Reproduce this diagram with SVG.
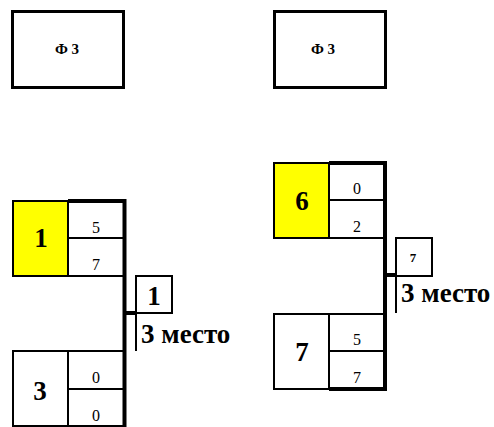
<svg xmlns="http://www.w3.org/2000/svg" width="494" height="427" viewBox="0 0 494 427">
<style>
.box{fill:#fff;stroke:#000;stroke-width:2}
.yel{fill:#ffff00;stroke:#000;stroke-width:2}
.frame{fill:none;stroke:#000;stroke-width:3}
.thick{fill:none;stroke:#000;stroke-width:4}
.thin{fill:none;stroke:#000;stroke-width:2}
text{font-family:"Liberation Serif","Times New Roman","DejaVu Serif",serif;fill:#000}
.big{font-weight:bold;font-size:27px;text-anchor:middle}
.sm{font-size:16px;text-anchor:middle}
.hd{font-weight:bold;font-size:15px;text-anchor:middle}
.res{font-weight:bold;font-size:13px;text-anchor:middle}
.pl{font-weight:bold;font-size:27px}
</style>
<rect width="494" height="427" fill="#fff"/>
<g id="top-left"><rect class="frame" x="12.5" y="11.5" width="111" height="76"/><text class="hd" x="67" y="54">Ф 3</text></g>
<g id="top-right"><rect class="frame" x="274.5" y="11.5" width="111" height="76"/><text class="hd" x="323" y="54">Ф 3</text></g>
<g id="team-1"><rect class="yel" x="13" y="201" width="55" height="75"/><text class="big" x="41" y="247">1</text></g>
<g id="score-1"><rect class="box" x="68" y="201" width="56" height="37"/><rect class="box" x="68" y="238" width="56" height="38"/><text class="sm" x="96" y="233">5</text><text class="sm" x="96" y="270">7</text></g>
<g id="team-3"><rect class="box" x="13" y="351" width="55" height="75"/><text class="big" x="40" y="400">3</text></g>
<g id="score-3"><rect class="box" x="68" y="351" width="56" height="38"/><rect class="box" x="68" y="389" width="56" height="37"/><text class="sm" x="96" y="383">0</text><text class="sm" x="96" y="421">0</text></g>
<g id="result-left"><rect class="box" x="136" y="276" width="36" height="37"/><text class="big" x="154" y="305">1</text><text class="pl" x="141" y="343">3 место</text></g>
<g id="team-6"><rect class="yel" x="274" y="163" width="55" height="75"/><text class="big" x="302" y="210">6</text></g>
<g id="score-6"><rect class="box" x="329" y="163" width="56" height="37"/><rect class="box" x="329" y="200" width="56" height="38"/><text class="sm" x="357" y="194">0</text><text class="sm" x="357" y="232">2</text></g>
<g id="team-7"><rect class="box" x="274" y="314" width="55" height="75"/><text class="big" x="302" y="361">7</text></g>
<g id="score-7"><rect class="box" x="329" y="314" width="56" height="37"/><rect class="box" x="329" y="351" width="56" height="38"/><text class="sm" x="357" y="345">5</text><text class="sm" x="357" y="383">7</text></g>
<g id="result-right"><rect class="box" x="396" y="238" width="36" height="38"/><text class="res" x="413" y="262">7</text><text class="pl" x="401" y="302">3 место</text></g>
<g id="connectors">
<path class="thick" d="M68 201H124.5V427"/>
<path class="thick" d="M124.5 313H136"/>
<path class="thin" d="M136 276V351"/>
<path class="thick" d="M329 163H385V389H329"/>
<path class="thick" d="M385 275H396"/>
<path class="thin" d="M396 238V313"/>
</g>
</svg>
